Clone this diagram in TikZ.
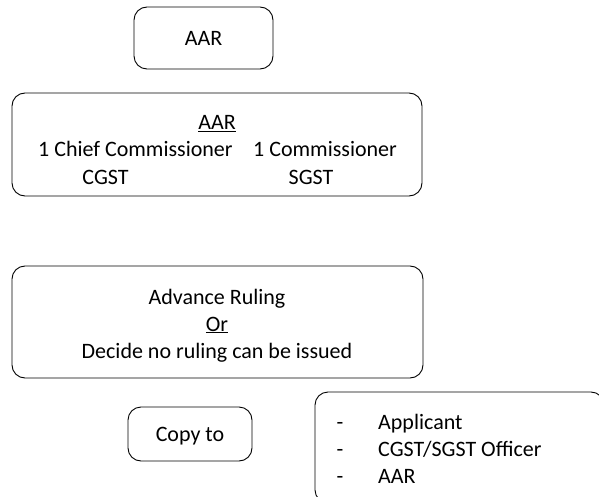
\documentclass[tikz,border=0pt]{standalone}
\usepackage{fontspec}
\setmainfont{Carlito}
\usetikzlibrary{positioning}
\tikzset{
	box/.style={line width=0.9pt, rounded corners=13pt},
	txt/.style={anchor=base, inner sep=0pt, font=\fontsize{22}{27}\selectfont},
}

\begin{document}
\begin{tikzpicture}[x=1pt, y=-1pt]
		%%%%% START %%%%%
		\useasboundingbox (0, 0) rectangle (599, 497);
		\clip (0, 0) rectangle (599, 497);
		
		\draw[box] (134, 7) rectangle (273, 69);
		\node[txt] (aar) at (203.5, 46) {AAR};
		
		\draw[box] (12, 93) rectangle (422, 196);
		\node[txt] (panelhead) at (217, 130) {\underline{AAR}};
		\node[txt, anchor=base west] (chief) at (38, 157) {1 Chief Commissioner};
		\node[txt, anchor=base west] (commr) at (253, 157) {1 Commissioner};
		\node[txt] (cgst) at (105.5, 184) {CGST};
		\node[txt] (sgst) at (311, 184) {SGST};
		
		\draw[box] (12, 266) rectangle (423, 378);
		\node[txt] (ruling) at (217, 304) {Advance Ruling};
		\node[txt] (or) at (217, 331) {\underline{Or}};
		\node[txt] (noruling) at (217, 358) {Decide no ruling can be issued};
		
		\draw[box] (128, 407) rectangle (252, 461);
		\node[txt] (copyto) at (190, 441) {Copy to};
		
		\draw[box] (315, 392) rectangle (604, 503);
		\node[txt] (dash1) at (340, 429) {-};
		\node[txt] (dash2) at (340, 456) {-};
		\node[txt] (dash3) at (340, 483) {-};
		\node[txt, anchor=base west] (applicant) at (378, 429) {Applicant};
		\node[txt, anchor=base west] (officer) at (378, 456) {CGST/SGST Officer};
		\node[txt, anchor=base west] (aarcopy) at (378, 483) {AAR};
		
		%%%%% END %%%%%
\end{tikzpicture}
\end{document}
